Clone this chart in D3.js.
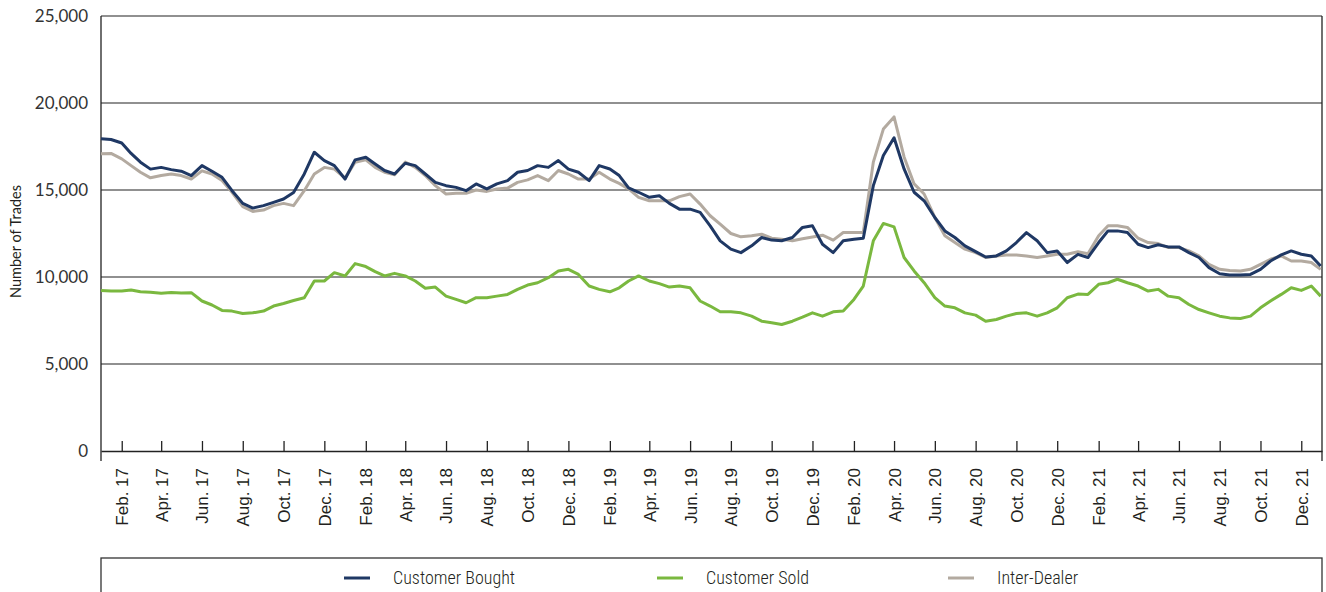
<!DOCTYPE html>
<html>
<head>
<meta charset="utf-8">
<script src="https://cdn.jsdelivr.net/npm/d3@7/dist/d3.min.js"></script>
<style>
  html, body { margin: 0; padding: 0; background: #fff; }
  svg { display: block; }
</style>
</head>
<body>
<svg id="chart" width="1326" height="592"></svg>
<script>
// ---------------- DATA ----------------
const dates = [
  "2017-01-01","2017-01-16","2017-02-01","2017-02-15","2017-03-01","2017-03-16","2017-04-01","2017-04-16","2017-05-01","2017-05-16","2017-06-01","2017-06-16",
  "2017-07-01","2017-07-16","2017-08-01","2017-08-16","2017-09-01","2017-09-16","2017-10-01","2017-10-16","2017-11-01","2017-11-16","2017-12-01","2017-12-16",
  "2018-01-01","2018-01-16","2018-02-01","2018-02-15","2018-03-01","2018-03-16","2018-04-01","2018-04-16","2018-05-01","2018-05-16","2018-06-01","2018-06-16",
  "2018-07-01","2018-07-16","2018-08-01","2018-08-16","2018-09-01","2018-09-16","2018-10-01","2018-10-16","2018-11-01","2018-11-16","2018-12-01","2018-12-16",
  "2019-01-01","2019-01-16","2019-02-01","2019-02-15","2019-03-01","2019-03-16","2019-04-01","2019-04-16","2019-05-01","2019-05-16","2019-06-01","2019-06-16",
  "2019-07-01","2019-07-16","2019-08-01","2019-08-16","2019-09-01","2019-09-16","2019-10-01","2019-10-16","2019-11-01","2019-11-16","2019-12-01","2019-12-16",
  "2020-01-01","2020-01-16","2020-02-01","2020-02-15","2020-03-01","2020-03-16","2020-04-01","2020-04-16","2020-05-01","2020-05-16","2020-06-01","2020-06-16",
  "2020-07-01","2020-07-16","2020-08-01","2020-08-16","2020-09-01","2020-09-16","2020-10-01","2020-10-16","2020-11-01","2020-11-16","2020-12-01","2020-12-16",
  "2021-01-01","2021-01-16","2021-02-01","2021-02-15","2021-03-01","2021-03-16","2021-04-01","2021-04-16","2021-05-01","2021-05-16","2021-06-01","2021-06-16",
  "2021-07-01","2021-07-16","2021-08-01","2021-08-16","2021-09-01","2021-09-16","2021-10-01","2021-10-16","2021-11-01","2021-11-16","2021-12-01","2021-12-16",
  "2021-12-30"
];

const customerBought = [
  17950,17900,17700,17100,16600,16200,16300,16170,16080,15830,16400,16080,
  15730,14960,14230,13960,14100,14290,14480,14860,15920,17170,16690,16400,
  15630,16730,16880,16500,16120,15920,16540,16400,15920,15440,15250,15150,
  14960,15350,15060,15350,15540,16020,16120,16400,16300,16690,16200,16020,
  15540,16400,16210,15830,15120,14870,14580,14670,14230,13900,13900,13710,
  12940,12080,11600,11400,11790,12270,12120,12080,12270,12850,12940,11880,
  11400,12080,12170,12230,15250,16980,18000,16210,14870,14380,13420,12650,
  12270,11790,11460,11150,11210,11500,11980,12550,12080,11400,11500,10830,
  11300,11120,11980,12650,12650,12560,11880,11690,11850,11730,11730,11400,
  11120,10540,10190,10120,10120,10150,10440,10920,11270,11500,11310,11210,
  10630
];

const customerSold = [
  9230,9190,9190,9250,9150,9130,9060,9110,9080,9100,8620,8390,
  8080,8040,7900,7940,8040,8330,8480,8650,8810,9770,9770,10250,
  10060,10770,10600,10310,10060,10210,10060,9770,9350,9420,8900,8710,
  8520,8810,8810,8900,9000,9290,9540,9670,9960,10350,10440,10150,
  9480,9290,9150,9380,9770,10060,9770,9620,9420,9480,9380,8620,
  8330,8000,8000,7940,7750,7460,7370,7270,7460,7690,7940,7750,
  8000,8040,8710,9480,12080,13080,12880,11120,10350,9670,8810,8330,
  8230,7940,7810,7460,7560,7750,7900,7940,7750,7940,8230,8810,
  9020,9000,9580,9670,9870,9670,9480,9190,9290,8900,8810,8420,
  8130,7940,7750,7650,7620,7750,8230,8620,9000,9380,9230,9480,
  8900
];

const interDealer = [
  17080,17100,16790,16400,16020,15700,15830,15920,15830,15630,16100,15920,
  15540,14870,14040,13770,13850,14100,14230,14100,14960,15920,16300,16200,
  15680,16600,16730,16300,16020,15880,16600,16300,15830,15250,14770,14810,
  14810,15000,14920,15060,15110,15440,15580,15830,15540,16120,15920,15630,
  15630,16020,15630,15380,15060,14580,14380,14380,14380,14620,14770,14190,
  13520,13040,12500,12310,12370,12460,12230,12170,12080,12200,12300,12400,
  12120,12560,12560,12560,16600,18500,19200,16900,15350,14770,13420,12370,
  11980,11600,11400,11120,11210,11270,11270,11210,11120,11210,11310,11310,
  11450,11340,12370,12940,12940,12850,12230,11980,11920,11690,11690,11500,
  11210,10730,10440,10380,10350,10440,10730,11020,11210,10920,10920,10830,
  10440
];

const tickDates = [
  "2017-02-01","2017-04-01","2017-06-01","2017-08-01","2017-10-01","2017-12-01",
  "2018-02-01","2018-04-01","2018-06-01","2018-08-01","2018-10-01","2018-12-01",
  "2019-02-01","2019-04-01","2019-06-01","2019-08-01","2019-10-01","2019-12-01",
  "2020-02-01","2020-04-01","2020-06-01","2020-08-01","2020-10-01","2020-12-01",
  "2021-02-01","2021-04-01","2021-06-01","2021-08-01","2021-10-01","2021-12-01"
];
const tickLabels = [
  "Feb. 17","Apr. 17","Jun. 17","Aug. 17","Oct. 17","Dec. 17",
  "Feb. 18","Apr. 18","Jun. 18","Aug. 18","Oct. 18","Dec. 18",
  "Feb. 19","Apr. 19","Jun. 19","Aug. 19","Oct. 19","Dec. 19",
  "Feb. 20","Apr. 20","Jun. 20","Aug. 20","Oct. 20","Dec. 20",
  "Feb. 21","Apr. 21","Jun. 21","Aug. 21","Oct. 21","Dec. 21"
];
const yTicks = [0, 5000, 10000, 15000, 20000, 25000];
const seriesNames = ["Customer Bought", "Customer Sold", "Inter-Dealer"];
const seriesColors = ["#1f3864", "#7ab83f", "#b3aaa0"];

// ---------------- CHART ----------------
const parse = d3.timeParse("%Y-%m-%d");
const svg = d3.select("#chart");
const L = 101, R = 1322, T = 16, B = 451;

const x = d3.scaleTime()
  .domain([parse("2017-01-01"), parse("2022-01-01")])
  .range([L, R]);
const y = d3.scaleLinear().domain([0, 25000]).range([B, T]);

// gridlines
svg.append("g").selectAll("line")
  .data(yTicks.filter(d => d > 0))
  .join("line")
  .attr("x1", L).attr("x2", R)
  .attr("y1", d => y(d)).attr("y2", d => y(d))
  .attr("stroke", "#222").attr("stroke-width", 1.2);

// frame verticals
svg.append("line").attr("x1", L).attr("x2", L).attr("y1", T).attr("y2", B + 10)
  .attr("stroke", "#222").attr("stroke-width", 1.3);
svg.append("line").attr("x1", R).attr("x2", R).attr("y1", T).attr("y2", B + 10)
  .attr("stroke", "#222").attr("stroke-width", 1.3);

// y axis labels
const yAxis = svg.append("g")
  .attr("transform", `translate(${L},0)`)
  .call(d3.axisLeft(y).tickValues(yTicks).tickFormat(d3.format(",")).tickSize(0).tickPadding(13));
yAxis.select(".domain").remove();
yAxis.selectAll("text")
  .attr("font-family", "Lato, 'Noto Sans', sans-serif")
  .attr("font-size", 17)
  .attr("fill", "#333");

// y title
svg.append("text")
  .attr("transform", `translate(21,${(T + B) / 2 + 8}) rotate(-90)`)
  .attr("text-anchor", "middle")
  .attr("font-family", "Lato, 'Noto Sans', sans-serif")
  .attr("font-size", 14.5)
  .attr("fill", "#231f20")
  .text("Number of Trades");

// x axis
const xAxis = svg.append("g")
  .attr("transform", `translate(0,${B})`)
  .call(d3.axisBottom(x)
    .tickValues(tickDates.map(parse))
    .tickFormat((d, i) => tickLabels[i])
    .tickSize(-10)
    .tickSizeOuter(0));
xAxis.select(".domain").attr("stroke", "#222").attr("stroke-width", 1.3);
xAxis.selectAll(".tick line").attr("stroke", "#222").attr("stroke-width", 1.3);
xAxis.selectAll("text")
  .attr("transform", "rotate(-90)")
  .attr("x", -17).attr("y", 0).attr("dy", "0.35em")
  .attr("text-anchor", "end")
  .attr("font-family", "'Liberation Sans', Arial, sans-serif")
  .attr("font-size", 17)
  .attr("fill", "#231f20");

// lines
const allSeries = [customerBought, customerSold, interDealer];
const drawOrder = [2, 1, 0];
const lineGen = d3.line()
  .x((d, i) => x(parse(dates[i])))
  .y(d => y(d));
drawOrder.forEach(si => {
  svg.append("path")
    .datum(allSeries[si])
    .attr("fill", "none")
    .attr("stroke", seriesColors[si])
    .attr("stroke-width", 3)
    .attr("stroke-linejoin", "round")
    .attr("d", lineGen);
});

// legend box
svg.append("rect")
  .attr("x", L).attr("y", 558).attr("width", R - L).attr("height", 60)
  .attr("fill", "none").attr("stroke", "#333").attr("stroke-width", 1.3);

const legendX = [344, 657, 948];
const lg = svg.append("g").selectAll("g")
  .data(seriesNames)
  .join("g")
  .attr("transform", (d, i) => `translate(${legendX[i]},578)`);
lg.append("line")
  .attr("x1", 0).attr("x2", 26).attr("y1", 0).attr("y2", 0)
  .attr("stroke", (d, i) => seriesColors[i]).attr("stroke-width", 3);
lg.append("text")
  .attr("x", 49).attr("y", 0).attr("dy", "0.35em")
  .attr("font-family", "'Liberation Sans Narrow', 'Roboto Condensed', 'Liberation Sans', sans-serif")
  .attr("font-size", 18)
  .attr("font-weight", 300)
  .attr("fill", "#231f20")
  .text(d => d);
</script>
</body>
</html>
